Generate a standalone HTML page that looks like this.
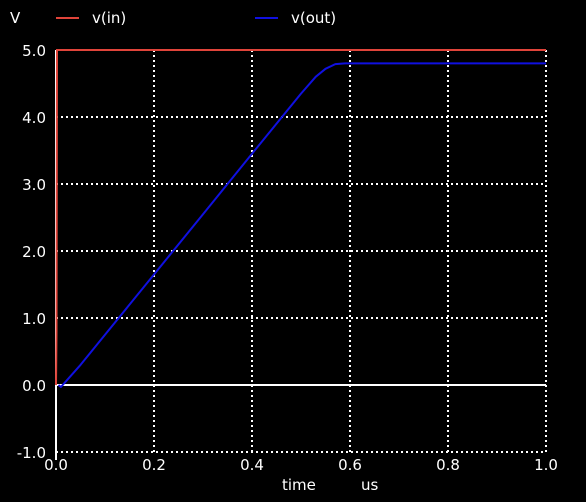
<!DOCTYPE html>
<html><head><meta charset="utf-8"><style>
body{margin:0;background:#000;}
svg{display:block;font-family:"DejaVu Sans","Liberation Sans",sans-serif;}
</style></head><body>
<svg id="chart" width="586" height="502" viewBox="0 0 586 502">
<rect width="586" height="502" fill="#000"/>
<g id="grid"></g>
<g id="axes"></g>
<g id="series"></g>
<g id="legend">
<text x="10" y="23" fill="#fff" font-size="15">V</text>
<line x1="56" y1="18" x2="79" y2="18" stroke="#e0443a" stroke-width="2"/>
<text x="92" y="23" fill="#fff" font-size="15">v(in)</text>
<line x1="255" y1="18" x2="278" y2="18" stroke="#1010e0" stroke-width="2"/>
<text x="291" y="23" fill="#fff" font-size="15">v(out)</text>
</g>
<text x="282" y="490" fill="#fff" font-size="15">time</text>
<text x="361" y="490" fill="#fff" font-size="15">us</text>
</svg>
<script>
const xTicks=[0,0.2,0.4,0.6,0.8,1.0];
const xTickLabels=["0.0","0.2","0.4","0.6","0.8","1.0"];
const yTicks=[-1,0,1,2,3,4,5];
const yTickLabels=["-1.0","0.0","1.0","2.0","3.0","4.0","5.0"];
const vinT=[0,0.001,0.002,0.003,1.0];
const vinV=[0,0.8,5.0,5.0,5.0];
const voutT=[0.005,0.01,0.05,0.1,0.2,0.3,0.4,0.5,0.53,0.55,0.57,0.59,0.62,1.0];
const voutV=[0,-0.03,0.3,0.75,1.65,2.55,3.45,4.35,4.6,4.72,4.79,4.8,4.8,4.8];
const NS="http://www.w3.org/2000/svg";
const X0=56,X1=546,Y0=452,Y1=50;
const sx=t=>X0+(t-0)/(1-0)*(X1-X0);
const sy=v=>Y0-(v+1)/6*(Y0-Y1);
function mk(tag,attrs,parent){const e=document.createElementNS(NS,tag);for(const k in attrs)e.setAttribute(k,attrs[k]);document.getElementById(parent).appendChild(e);return e;}
xTicks.forEach((t,i)=>{
  if(i>0){const l=mk('line',{x1:sx(t),y1:Y1,x2:sx(t),y2:Y0,stroke:'#fff','stroke-width':2,'stroke-dasharray':'2,3'},'grid');
  
  }
  const tx=mk('text',{x:sx(t),y:470,fill:'#fff','font-size':15,'text-anchor':'middle'},'axes');
  tx.textContent=xTickLabels[i];
  
  
});
yTicks.forEach((v,i)=>{
  if(v!==0 && v!==5){const l=mk('line',{x1:X0,y1:sy(v),x2:X1,y2:sy(v),stroke:'#fff','stroke-width':2,'stroke-dasharray':'2,3'},'grid');
  
  }
  const tx=mk('text',{x:46,y:sy(v)+6,fill:'#fff','font-size':15,'text-anchor':'end'},'axes');
  tx.textContent=yTickLabels[i];
  
  
});
const z=mk('line',{x1:X0,y1:sy(0),x2:X1,y2:sy(0),stroke:'#fff','stroke-width':2},'axes');


const ya=mk('line',{x1:X0,y1:Y1,x2:X0,y2:Y0+8,stroke:'#fff','stroke-width':2},'axes');


function path(T,V){return T.map((t,i)=>(i?'L':'M')+sx(t).toFixed(1)+','+sy(V[i]).toFixed(1)).join(' ');}
const pin=mk('path',{d:path(vinT,vinV),stroke:'#e0443a','stroke-width':2,fill:'none'},'series');


const pout=mk('path',{d:path(voutT,voutV),stroke:'#1010e0','stroke-width':2,fill:'none','stroke-linejoin':'round'},'series');


</script>
</body></html>
